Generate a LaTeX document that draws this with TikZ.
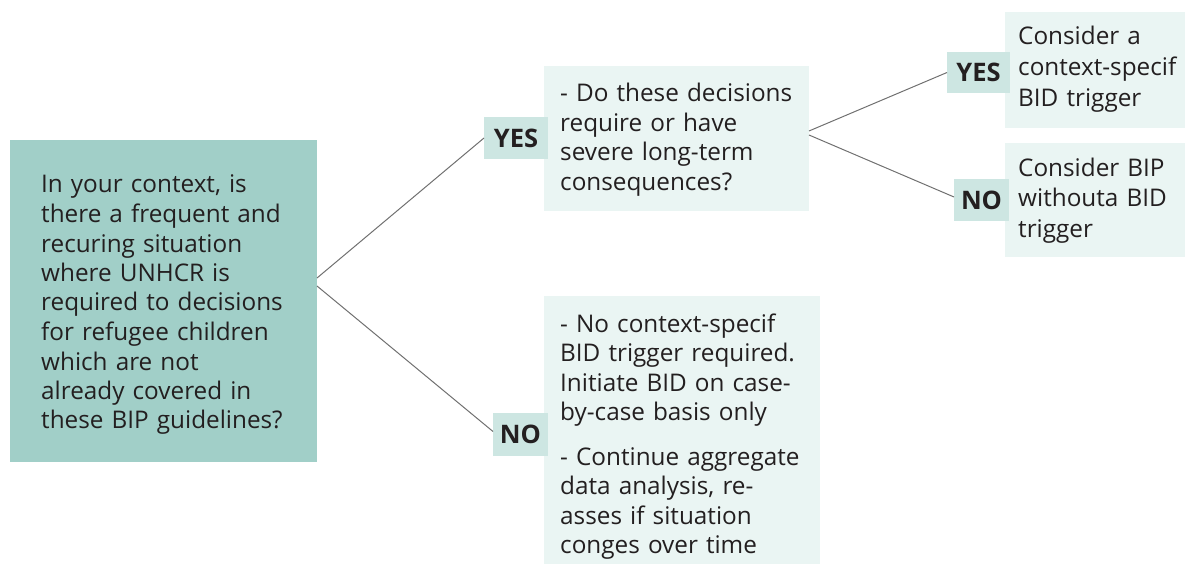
\documentclass[tikz,border=0pt]{standalone}
\usepackage{fontspec}
\setmainfont{Open Sans}
\definecolor{mainc}{HTML}{A1CFC8}
\definecolor{labc}{HTML}{CDE6E2}
\definecolor{lightc}{HTML}{EAF5F3}
\definecolor{txtc}{HTML}{231F20}
\definecolor{linec}{HTML}{707070}
\begin{document}
\begin{tikzpicture}[x=1pt,y=-1pt,
  box/.style={rectangle,inner sep=0pt,outer sep=0pt,draw=none},
  txt/.style={anchor=base west,inner sep=0pt,text=txtc,align=left,
    font=\fontsize{24.3}{29.5}\selectfont},
  lab/.style={box,fill=labc,text=txtc,font=\fontsize{25.5}{28}\selectfont\bfseries},
  conn/.style={draw=linec,line width=1pt}]
\useasboundingbox (0,0) rectangle (1185,564);
% boxes
\node[box,fill=mainc,minimum width=307pt,minimum height=322pt] (main) at (163.5,301) {};
\node[box,fill=lightc,minimum width=265pt,minimum height=145pt] (b2) at (676.5,138.5) {};
\node[box,fill=lightc,minimum width=276pt,minimum height=268pt] (b3) at (682,430) {};
\node[box,fill=lightc,minimum width=180pt,minimum height=116pt] (b4) at (1095,70) {};
\node[box,fill=lightc,minimum width=180pt,minimum height=114pt] (b5) at (1095,200) {};
% texts
\node[txt,text width=280pt] (t1) at (41,193) {In your context, is\\there a frequent and\\recuring situation\\where UNHCR is\\required to decisions\\for refugee children\\which are not\\already covered in\\these BIP guidelines?};
\node[txt,text width=250pt] (t2) at (560,102) {- Do these decisions\\require or have\\severe long-term\\consequences?};
\node[txt,text width=260pt] (t3) at (560,332) {- No context-specif\\BID trigger required.\\Initiate BID on case-\\by-case basis only\\[15pt]- Continue aggregate\\data analysis, re-\\asses if situation\\conges over time};
\node[txt,text width=170pt,font=\fontsize{24.3}{31}\selectfont] (t4) at (1018,45) {Consider a\\context-specif\\BID trigger};
\node[txt,text width=170pt,font=\fontsize{24.3}{30}\selectfont] (t5) at (1018,177) {Consider BIP\\withouta BID\\trigger};
% labels
\node[lab,minimum width=64pt,minimum height=42pt] (yes1) at (516,138) {YES};
\node[lab,minimum width=55pt,minimum height=43pt] (no1) at (520.5,434.5) {NO};
\node[lab,minimum width=63pt,minimum height=41pt] (yes2) at (978.5,72.5) {YES};
\node[lab,minimum width=55pt,minimum height=42pt] (no2) at (981.5,200) {NO};
% connectors
\draw[conn] ([yshift=23pt]main.east) -- (yes1.west);
\draw[conn] ([yshift=15pt]main.east) -- ([yshift=3pt]no1.west);
\draw[conn] ([yshift=7.5pt]b2.east) -- (yes2.west);
\draw[conn] ([yshift=3.5pt]b2.east) -- ([yshift=3pt]no2.west);
\end{tikzpicture}
\end{document}
